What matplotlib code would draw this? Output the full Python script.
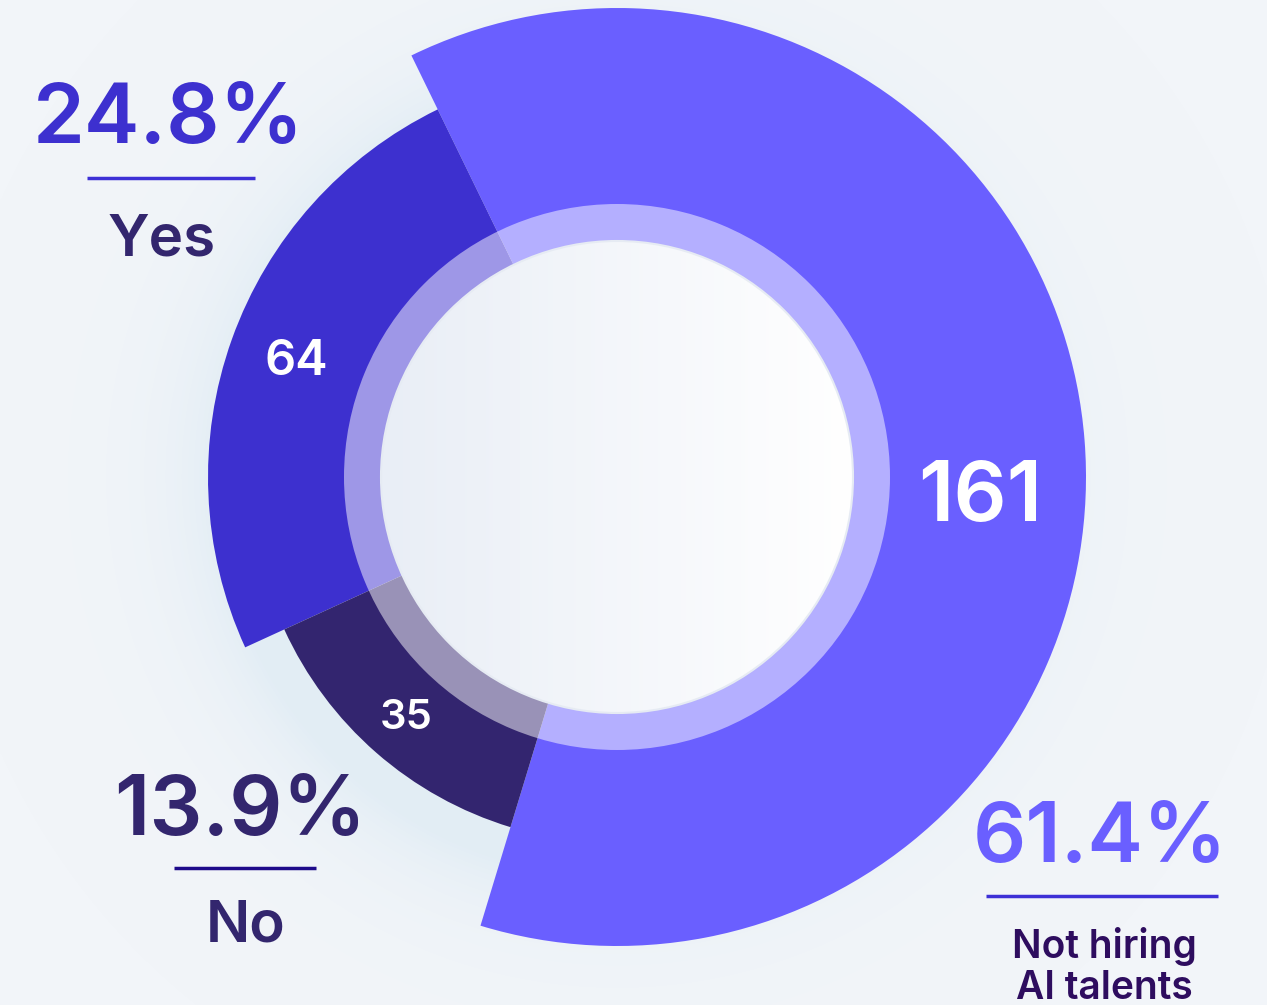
import numpy as np
import matplotlib.pyplot as plt
from matplotlib.patches import Wedge, Circle

# survey answers: hiring AI talents?
categories = ["Not hiring\nAI talents", "Yes", "No"]
counts = [161, 64, 35]
shares = ["61.4%", "24.8%", "13.9%"]

W, H = 1267, 1005
cx, cy = 617, H - 477
outer_r = [469, 409, 366]
inner_r = 236
ring_r = 273
start = 116

colors = ["#6a5fff", "#3d30cf", "#33256f"]

plt.rcParams["font.family"] = ["Inter", "DejaVu Sans"]

fig = plt.figure(figsize=(W / 100, H / 100), dpi=100)
fig.patch.set_facecolor("#f2f5f9")
ax = fig.add_axes([0, 0, 1, 1])
ax.set_xlim(0, W)
ax.set_ylim(0, H)
ax.set_aspect("equal")
ax.axis("off")

# soft halo behind the donut
yy, xx = np.mgrid[0:H:2, 0:W:2]
d = np.hypot(xx - cx, yy - cy)
halo = np.zeros(d.shape + (4,))
halo[..., :3] = np.array([0.85, 0.91, 0.95])
halo[..., 3] = 0.6 * np.exp(-np.clip(d - 400, 0, None) / 55.0) * (d > 300)
ax.imshow(halo, extent=(0, W, 0, H), origin="lower", zorder=0, interpolation="bilinear")

# segments: big one runs clockwise from start, the others counter-clockwise
spans = np.array(counts) / sum(counts) * 360
thetas = [
    (start - spans[0], start),
    (start, start + spans[1]),
    (start + spans[1], start + spans[1] + spans[2]),
]
for (t1, t2), r, c in zip(thetas, outer_r, colors):
    ax.add_patch(Wedge((cx, cy), r, t1, t2, width=r - inner_r, color=c, lw=0, zorder=2))

# translucent ring and centre disc
ax.add_patch(Wedge((cx, cy), ring_r, 0, 360, width=ring_r - inner_r,
                   color="white", alpha=0.5, lw=0, zorder=3))
grad = np.linspace(0, 1, 256)[None, :] * np.ones((256, 1))
cmap = plt.matplotlib.colors.LinearSegmentedColormap.from_list("disc", ["#e9eef6", "#ffffff"])
disc = Circle((cx, cy), inner_r, transform=ax.transData)
img = ax.imshow(grad, cmap=cmap, extent=(cx - inner_r, cx + inner_r, cy - inner_r, cy + inner_r),
                origin="lower", zorder=4)
img.set_clip_path(disc)
ax.add_patch(Circle((cx, cy), inner_r, fill=False, ec="#e6ebf3", lw=1.5, zorder=5))

# counts inside the segments
label_r = [364, 341, 320]
label_shift = [-8, 0, 0]
label_size = [60, 35, 30]
for (t1, t2), n, r, da, fs in zip(thetas, counts, label_r, label_shift, label_size):
    a = np.deg2rad((t1 + t2) / 2 + da)
    ax.text(cx + r * np.cos(a), cy + r * np.sin(a), str(n), color="white",
            fontsize=fs, fontweight="semibold", ha="center", va="center", zorder=6)

# share callouts
callouts = [
    # share x, share baseline, line span, line y, name x, name baseline, colours, name size
    (1100, 862, (986, 1218), 896, 1104, 999, "#6a5fff", "#3d30d6", "#2e0d5f", 28),
    (168, 143, (87, 255), 178, 162, 255, "#3d30cf", "#3d30d6", "#33266e", 42),
    (240, 835, (174, 316), 868, 246, 942, "#33266e", "#1e0a8a", "#33266e", 42),
]
for (x, y, (x0, x1), ly, nx, ny, sc, lc, nc, nfs), share, name in zip(callouts, shares, categories):
    ax.text(x, H - y, share, color=sc, fontsize=60, fontweight="semibold",
            ha="center", va="baseline", zorder=6)
    ax.plot([x0, x1], [H - ly, H - ly], color=lc, lw=2.5, solid_capstyle="butt", zorder=6)
    ax.text(nx, H - ny, name, color=nc, fontsize=nfs, fontweight="semibold",
            ha="center", va="baseline", linespacing=1.15, zorder=6)

fig.savefig("out.png", dpi=100, facecolor=fig.get_facecolor())
